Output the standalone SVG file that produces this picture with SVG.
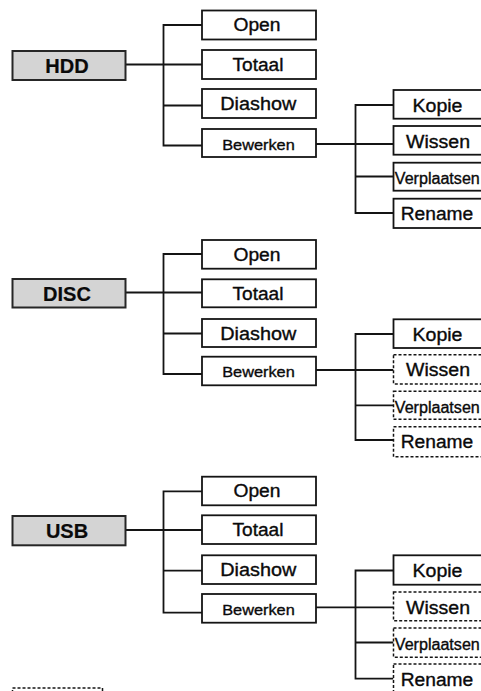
<svg xmlns="http://www.w3.org/2000/svg" width="481" height="691" viewBox="0 0 481 691">
<style>
.bg{fill:#fff}
.box{fill:#fff;stroke:#141414;stroke-width:1.8}
.dash{fill:#fff;stroke:#141414;stroke-width:1.5;stroke-dasharray:3 2}
.root{fill:#d4d4d4;stroke:#262626;stroke-width:2}
.t{font-family:"Liberation Sans",Arial,sans-serif;font-size:18px;text-anchor:middle;fill:#0a0a0a;stroke:#0a0a0a;stroke-width:0.35}
.rt{font-weight:bold;font-size:20px;stroke-width:0.2}
.sm{font-size:15.5px}
.vp{font-size:16px}
.conn path{fill:none;stroke:#141414;stroke-width:1.8}
</style>
<rect class="bg" x="0" y="0" width="481" height="691"/>

<g id="connectors" class="conn">
  <!-- HDD -->
  <path d="M125.5 64.5 H202"/>
  <path d="M202 25 H163.5 V145.5 H202"/>
  <path d="M163.5 105.5 H202"/>
  <path d="M316 144 H393.5"/>
  <path d="M393.5 105 H355.5 V213 H393.5"/>
  <path d="M355.5 176.5 H393.5"/>
  <!-- DISC -->
  <path d="M125.5 292.5 H202"/>
  <path d="M202 254 H163.5 V374 H202"/>
  <path d="M163.5 333.5 H202"/>
  <path d="M316 370 H393.5"/>
  <path d="M393.5 334 H355.5 V440 H393.5"/>
  <path d="M355.5 405.3 H393.5"/>
  <!-- USB -->
  <path d="M125.5 530 H202"/>
  <path d="M202 491.3 H163.5 V612.7 H202"/>
  <path d="M163.5 570.7 H202"/>
  <path d="M316 607.3 H393.5"/>
  <path d="M393.5 570.5 H355.5 V678.7 H393.5"/>
  <path d="M355.5 642.5 H393.5"/>
</g>

<!-- HDD section -->
<g id="hdd"><rect class="root" x="12.5" y="51" width="113" height="29"/><text class="t rt" x="67" y="73">HDD</text></g>
<g id="hdd-open"><rect class="box" x="202" y="10.5" width="114" height="29"/><text class="t" x="257" y="31" textLength="47" lengthAdjust="spacingAndGlyphs">Open</text></g>
<g id="hdd-totaal"><rect class="box" x="202" y="50" width="114" height="29"/><text class="t" x="258" y="70.5" textLength="51" lengthAdjust="spacingAndGlyphs">Totaal</text></g>
<g id="hdd-diashow"><rect class="box" x="202" y="89" width="114" height="29"/><text class="t" x="258.3" y="109.5" textLength="76" lengthAdjust="spacingAndGlyphs">Diashow</text></g>
<g id="hdd-bewerken"><rect class="box" x="202" y="129" width="114" height="28"/><text class="t sm" x="258.5" y="149.5" textLength="72.5" lengthAdjust="spacingAndGlyphs">Bewerken</text></g>
<g id="hdd-kopie"><rect class="box" x="393.5" y="90" width="100" height="28.7"/><text class="t" x="437.5" y="111.5" textLength="50" lengthAdjust="spacingAndGlyphs">Kopie</text></g>
<g id="hdd-wissen"><rect class="box" x="393.5" y="126" width="100" height="28.7"/><text class="t" x="438" y="147.5" textLength="64" lengthAdjust="spacingAndGlyphs">Wissen</text></g>
<g id="hdd-verplaatsen"><rect class="box" x="393.5" y="162.7" width="100" height="28"/><text class="t vp" x="437.3" y="184" textLength="85" lengthAdjust="spacingAndGlyphs">Verplaatsen</text></g>
<g id="hdd-rename"><rect class="box" x="393.5" y="198.7" width="100" height="29.3"/><text class="t" x="437" y="220" textLength="72.5" lengthAdjust="spacingAndGlyphs">Rename</text></g>

<!-- DISC section -->
<g id="disc"><rect class="root" x="12.5" y="279" width="113" height="28.5"/><text class="t rt" x="67" y="300.5">DISC</text></g>
<g id="disc-open"><rect class="box" x="202" y="240" width="114" height="28.7"/><text class="t" x="257" y="260.5" textLength="47" lengthAdjust="spacingAndGlyphs">Open</text></g>
<g id="disc-totaal"><rect class="box" x="202" y="279.3" width="114" height="28"/><text class="t" x="258" y="300" textLength="51" lengthAdjust="spacingAndGlyphs">Totaal</text></g>
<g id="disc-diashow"><rect class="box" x="202" y="319" width="114" height="28"/><text class="t" x="258.3" y="339.5" textLength="76" lengthAdjust="spacingAndGlyphs">Diashow</text></g>
<g id="disc-bewerken"><rect class="box" x="202" y="356.7" width="114" height="28.6"/><text class="t sm" x="258.5" y="377.3" textLength="72.5" lengthAdjust="spacingAndGlyphs">Bewerken</text></g>
<g id="disc-kopie"><rect class="box" x="393.5" y="319.3" width="100" height="28.7"/><text class="t" x="437.5" y="341" textLength="50" lengthAdjust="spacingAndGlyphs">Kopie</text></g>
<g id="disc-wissen"><rect class="dash" x="393.5" y="354.7" width="100" height="29.3"/><text class="t" x="438" y="376" textLength="64" lengthAdjust="spacingAndGlyphs">Wissen</text></g>
<g id="disc-verplaatsen"><rect class="dash" x="393.5" y="391.3" width="100" height="28"/><text class="t vp" x="437.3" y="412.5" textLength="85" lengthAdjust="spacingAndGlyphs">Verplaatsen</text></g>
<g id="disc-rename"><rect class="dash" x="393.5" y="426.7" width="100" height="30"/><text class="t" x="437" y="448" textLength="72.5" lengthAdjust="spacingAndGlyphs">Rename</text></g>

<!-- USB section -->
<g id="usb"><rect class="root" x="12.5" y="516" width="113" height="29.3"/><text class="t rt" x="67" y="538">USB</text></g>
<g id="usb-open"><rect class="box" x="202" y="476.7" width="114" height="28.6"/><text class="t" x="257" y="497.2" textLength="47" lengthAdjust="spacingAndGlyphs">Open</text></g>
<g id="usb-totaal"><rect class="box" x="202" y="515.3" width="114" height="28.7"/><text class="t" x="258" y="536" textLength="51" lengthAdjust="spacingAndGlyphs">Totaal</text></g>
<g id="usb-diashow"><rect class="box" x="202" y="555.3" width="114" height="28.7"/><text class="t" x="258.3" y="576" textLength="76" lengthAdjust="spacingAndGlyphs">Diashow</text></g>
<g id="usb-bewerken"><rect class="box" x="202" y="594" width="114" height="28.7"/><text class="t sm" x="258.5" y="614.6" textLength="72.5" lengthAdjust="spacingAndGlyphs">Bewerken</text></g>
<g id="usb-kopie"><rect class="box" x="393.5" y="555.3" width="100" height="29.4"/><text class="t" x="437.5" y="577" textLength="50" lengthAdjust="spacingAndGlyphs">Kopie</text></g>
<g id="usb-wissen"><rect class="dash" x="393.5" y="592" width="100" height="28.7"/><text class="t" x="438" y="613.5" textLength="64" lengthAdjust="spacingAndGlyphs">Wissen</text></g>
<g id="usb-verplaatsen"><rect class="dash" x="393.5" y="628" width="100" height="29.3"/><text class="t vp" x="437.3" y="649.5" textLength="85" lengthAdjust="spacingAndGlyphs">Verplaatsen</text></g>
<g id="usb-rename"><rect class="dash" x="393.5" y="664" width="100" height="29.5"/><text class="t" x="437" y="685.5" textLength="72.5" lengthAdjust="spacingAndGlyphs">Rename</text></g>

<!-- legend (dashed box, cut at bottom edge) -->
<g id="legend"><rect class="dash" x="12.5" y="688" width="90" height="20"/></g>
</svg>
